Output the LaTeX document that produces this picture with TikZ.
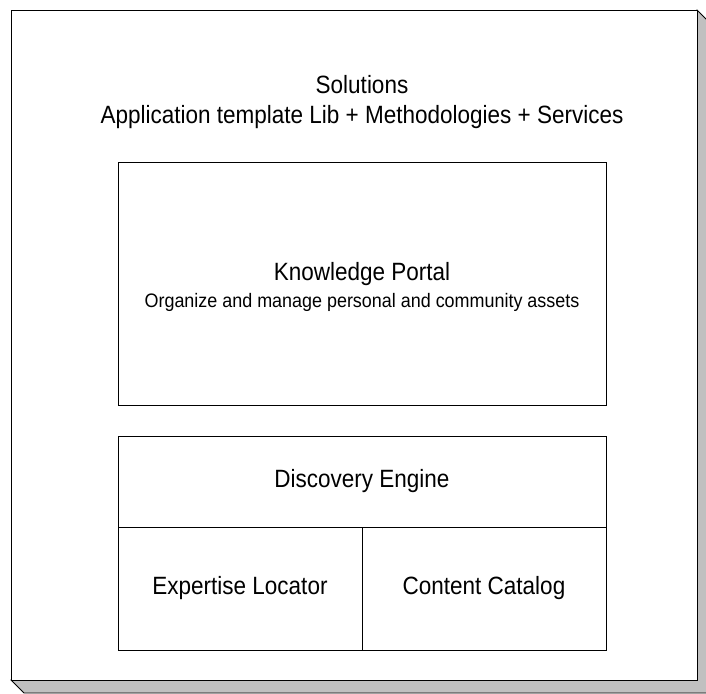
\documentclass[tikz,border=0pt]{standalone}
\usepackage{fontspec}
\newfontfamily\lbl[FakeStretch=0.9]{Liberation Sans}
\newfontfamily\lblsmall[FakeStretch=0.92]{Liberation Sans}
\definecolor{shadowgray}{HTML}{C0C0C0}
\begin{document}
\begin{tikzpicture}[x=1pt,y=-1pt,
  boxstyle/.style={draw=black, line width=0.9pt, fill=white, inner sep=0pt, outer sep=0pt, rectangle},
  bigtext/.style={anchor=base, inner sep=0pt, font=\lbl\fontsize{25}{30}\selectfont},
  smalltext/.style={anchor=base, inner sep=0pt, font=\lblsmall\fontsize{19.5}{23}\selectfont}]
\useasboundingbox (0,0) rectangle (706,693);
% shadow
\filldraw[fill=shadowgray, draw=black, line width=0.8pt]
  (697,10) -- (710,23) -- (710,693) -- (24,693) -- (11,680) -- cycle;
% outer frame
\node[boxstyle, minimum width=686pt, minimum height=670pt] (frame) at (354,345) {};
% title
\node[bigtext] (sol) at (362,93) {Solutions};
\node[bigtext] (app) at (362,123) {Application template Lib + Methodologies + Services};
% knowledge portal
\node[boxstyle, minimum width=488pt, minimum height=243pt] (kp) at (362,283.5) {};
\node[bigtext] (kpt) at (362,280) {Knowledge Portal};
\node[smalltext] (kps) at (362,307) {Organize and manage personal and community assets};
% lower box
\node[boxstyle, minimum width=488pt, minimum height=91pt] (de) at (362,481.5) {};
\node[boxstyle, minimum width=244pt, minimum height=123pt] (el) at (240,588.5) {};
\node[boxstyle, minimum width=244pt, minimum height=123pt] (cc) at (484,588.5) {};
\node[bigtext, anchor=center] (det) at (de.center) {Discovery Engine};
\node[bigtext, anchor=center] (elt) at (el.center) {Expertise Locator};
\node[bigtext, anchor=center] (cct) at (cc.center) {Content Catalog};
\end{tikzpicture}
\end{document}
